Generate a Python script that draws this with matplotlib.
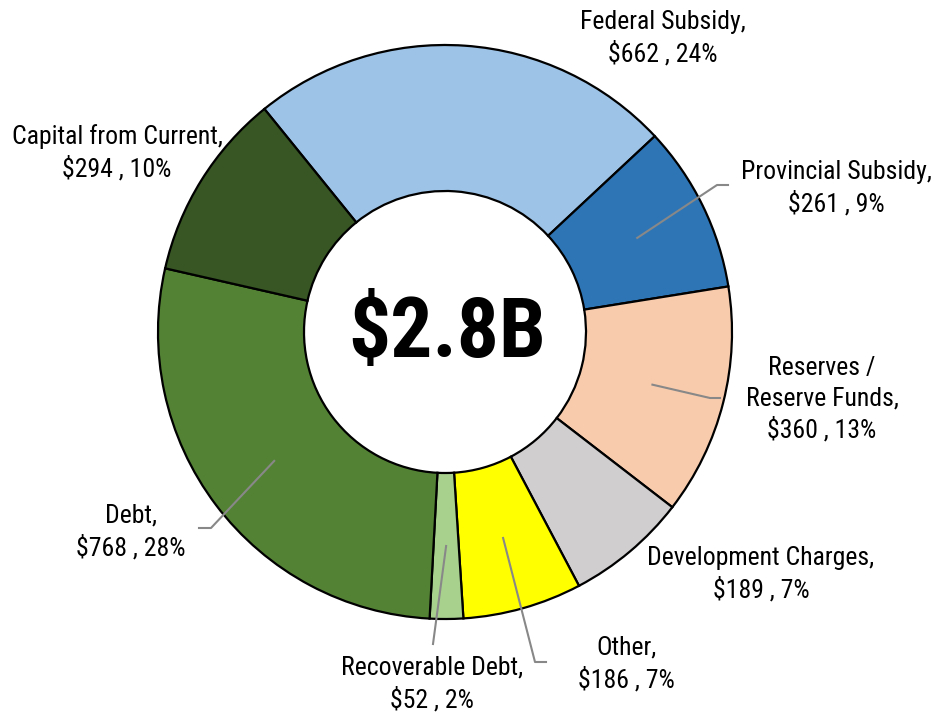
import numpy as np
import matplotlib.pyplot as plt

labels = ["Federal Subsidy", "Provincial Subsidy", "Reserves /\nReserve Funds",
          "Development Charges", "Other", "Recoverable Debt", "Debt",
          "Capital from Current"]
values = [662, 261, 360, 189, 186, 52, 768, 294]
pcts = [24, 9, 13, 7, 7, 2, 28, 10]
colors = ["#9DC3E6", "#2E75B6", "#F8CBAD", "#D0CECE", "#FFFF00",
          "#A9D18E", "#548235", "#375623"]
total_text = "$2.8B"

# label centres in pixel coords (y from top), plus optional leader elbow/end
label_pos = [(663, 38), (836, 188), (822, 399), (761, 574),
             (626, 664), (432, 684), (131, 532), (117, 153)]
leaders = {1: [(717, 185), (728, 185)],
           2: [(710, 398), (720, 398)],
           4: [(535, 662), (546, 662)],
           5: [(433, 644)],
           6: [(211, 528), (199, 528)]}

W, H = 935, 714
fam = ["Liberation Sans Narrow", "Roboto Condensed", "Archivo Narrow", "DejaVu Sans"]
fam_bold = ["Liberation Sans Narrow", "Roboto Condensed", "Barlow Semi Condensed", "DejaVu Sans"]
plt.rcParams['font.family'] = fam

fig = plt.figure(figsize=(W / 100, H / 100), dpi=100)
ax = fig.add_axes([0, 0, 1, 1])

cx, cy = 445, H - 332
R, r_in = 287, 141
start = 129
wedges, _ = ax.pie(values, colors=colors, startangle=start, counterclock=False,
                   radius=R, center=(cx, cy), frame=True,
                   wedgeprops=dict(width=R - r_in, edgecolor='black', linewidth=1.6))
ax.set_xlim(0, W)
ax.set_ylim(0, H)
ax.set_aspect('equal')
ax.axis('off')

for i, w in enumerate(wedges):
    x, y = label_pos[i]
    txt = f"{labels[i]},\n${values[i]} , {pcts[i]}%"
    ax.text(x, H - y, txt, ha='center', va='center', fontsize=18.5,
            linespacing=1.32, family=fam)
    if i in leaders:
        mid = np.deg2rad((w.theta1 + w.theta2) / 2)
        rm = (R + r_in) / 2
        pts = [(cx + rm * np.cos(mid), cy + rm * np.sin(mid))]
        pts += [(px, H - py) for px, py in leaders[i]]
        xs, ys = zip(*pts)
        ax.plot(xs, ys, color='#888888', lw=1.5, zorder=5)

ax.text(cx + 2, cy - 2, total_text, ha='center', va='center', fontsize=60,
        fontweight='bold', family=fam_bold)

fig.savefig("out.png", dpi=100)
